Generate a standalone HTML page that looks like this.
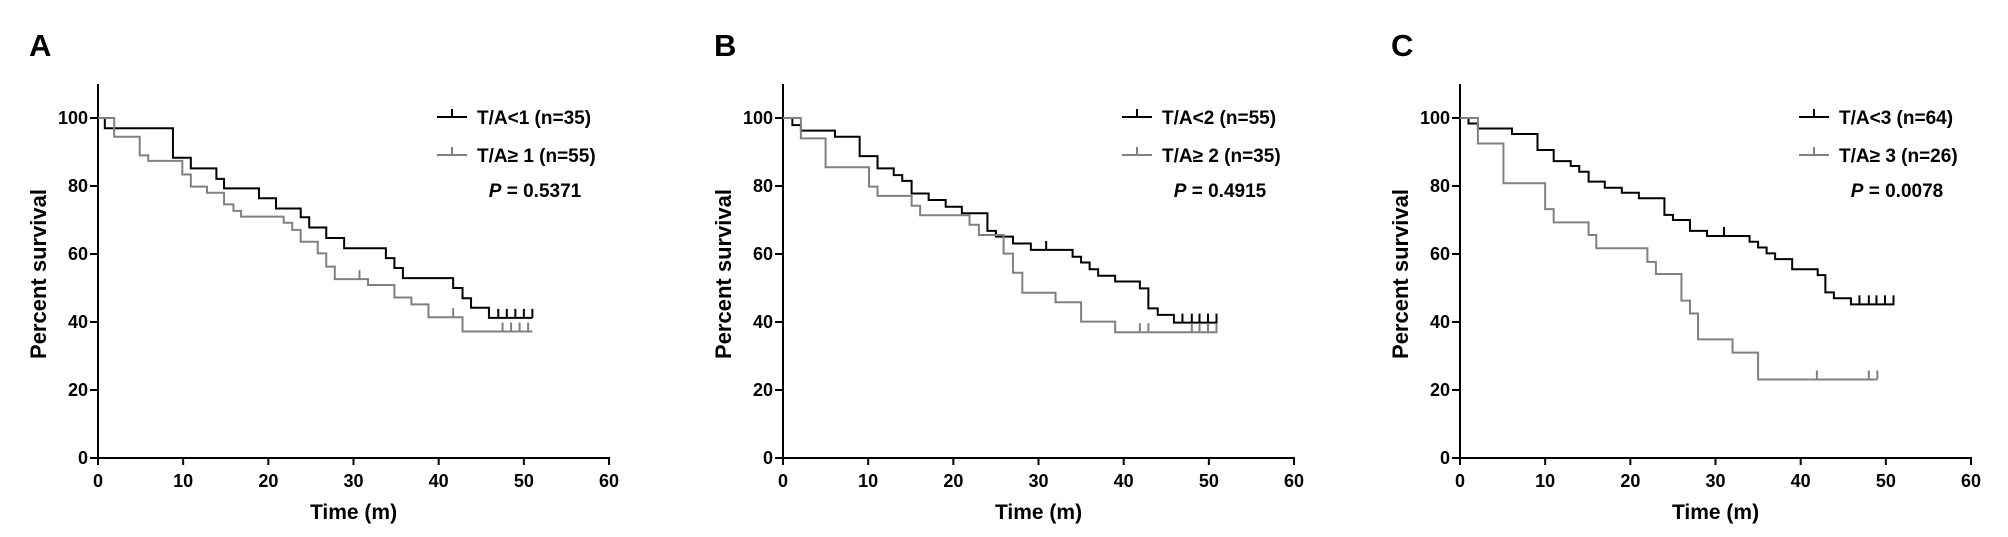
<!DOCTYPE html>
<html><head><meta charset="utf-8"><style>
body{margin:0;background:#fff;width:2008px;height:537px;overflow:hidden}
svg{display:block}
text{font-family:"Liberation Sans Narrow","Liberation Sans",sans-serif;font-weight:bold}
</style></head><body>
<svg id="c" width="2008" height="537"></svg>
<script>
const xTicks=[0,10,20,30,40,50,60];
const yTicks=[0,20,40,60,80,100];
const panelLetters=["A","B","C"];
const legendLow=["T/A<1 (n=35)","T/A<2 (n=55)","T/A<3 (n=64)"];
const legendHigh=["T/A≥ 1 (n=55)","T/A≥ 2 (n=35)","T/A≥ 3 (n=26)"];
const pValues=["0.5371","0.4915","0.0078"];
// Panel A
const aLowT=[0,0.8,8.8,10.9,13.9,14.8,18.9,20.9,23.8,24.8,26.8,28.9,33.8,34.8,35.8,41.7,42.8,43.8,45.9];
const aLowS=[100,97,88.3,85.2,82.1,79.3,76.4,73.4,70.8,67.8,64.7,61.7,58.8,55.9,52.9,50,47,44.2,41.2];
const aLowCens=[47,48,49,50,51];
const aHighT=[0,1.9,4.9,5.9,9.9,10.9,12.8,14.8,15.9,16.8,21.8,22.8,23.8,25.8,26.8,27.8,31.7,34.8,36.8,38.8,42.8];
const aHighS=[100,94.5,89,87.4,83.4,79.8,78,74.6,72.7,71,69.2,67.1,63.6,60.2,56.3,52.6,50.9,47.2,45.2,41.4,37.2];
const aHighCens=[30.7,41.7,47.5,48.5,49.5,50.5];
// Panel B
const bLowT=[0,1.1,2.1,6.1,9,11.1,13,14,15.1,17.1,19.1,21,24,25,27,29.1,34,35,36,37,39,41.9,42.9,44,45.9];
const bLowS=[100,97.9,96.3,94.5,88.8,85.2,83.2,81.5,77.8,75.9,73.9,72,66.8,65.1,63.1,61.2,59.2,57.5,55.5,53.6,51.9,49.9,44,42.1,39.8];
const bLowCens=[30.9,46.9,48,48.9,49.9,50.9];
const bHighT=[0,2.1,5,10.1,11.1,15.1,16.1,21.9,23,25.9,27,28.1,32,35,39];
const bHighS=[100,94,85.5,79.8,77.1,74.2,71.4,68.6,65.6,60.1,54.5,48.6,45.8,40.1,37];
const bHighCens=[41.9,42.9,48,48.9,49.9,50.9];
// Panel C
const cLowT=[0,1,2.1,6.1,9.1,11,13,14,15.1,17,19,21,24,25,27,29,34,35,36,37,39,42,42.9,43.9,45.9];
const cLowS=[100,98.4,96.9,95.3,90.6,87.3,85.9,84.2,81.3,79.5,78,76.4,71.5,70,66.8,65.3,63.6,61.9,60.2,58.5,55.5,53.8,48.7,47,45.2];
const cLowCens=[31,46.9,48,48.9,49.9,50.9];
const cHighT=[0,2.1,5.1,10,11,15.1,16,22,23,26,27,27.95,32,35];
const cHighS=[100,92.5,80.8,73.2,69.3,65.6,61.7,57.7,54.1,46.3,42.5,34.9,31,23.1];
const cHighCens=[41.9,48,49];
const lowEnd=[51,51,51], highEnd=[51,51,49];

const panels=[
 {ox:98,low:[aLowT,aLowS,aLowCens],high:[aHighT,aHighS,aHighCens]},
 {ox:783,low:[bLowT,bLowS,bLowCens],high:[bHighT,bHighS,bHighCens]},
 {ox:1460,low:[cLowT,cLowS,cLowCens],high:[cHighT,cHighS,cHighCens]}
];
const svg=document.getElementById('c');
const NS='http://www.w3.org/2000/svg';
function mk(tag,attrs,parent){const e=document.createElementNS(NS,tag);for(const k in attrs)e.setAttribute(k,attrs[k]);(parent||svg).appendChild(e);return e;}
const Y0=458, PXY=3.4, PXX=8.517;
panels.forEach((p,i)=>{
 const g=mk('g',{});
 
 
 const X=t=>p.ox+t*PXX, Y=v=>Y0-v*PXY;
 const L=mk('text',{x:p.ox-69,y:56,'font-size':31},g);L.textContent=panelLetters[i];
 
 const ya=mk('line',{x1:p.ox,y1:Y(110),x2:p.ox,y2:Y0+1,stroke:'#000','stroke-width':2},g);
 
 const xa=mk('line',{x1:p.ox-1,y1:Y0,x2:X(60)+1,y2:Y0,stroke:'#000','stroke-width':2},g);
 
 yTicks.forEach(v=>{
  mk('line',{x1:p.ox-8,y1:Y(v),x2:p.ox,y2:Y(v),stroke:'#000','stroke-width':2},g);
  const t=mk('text',{x:p.ox-10,y:Y(v)+6,'font-size':18,'text-anchor':'end'},g);t.textContent=v;
  
 });
 xTicks.forEach(v=>{
  mk('line',{x1:X(v),y1:Y0,x2:X(v),y2:Y0+7,stroke:'#000','stroke-width':2},g);
  const t=mk('text',{x:X(v),y:487,'font-size':18,'text-anchor':'middle'},g);t.textContent=v;
  
 });
 const xt=mk('text',{x:X(30),y:519,'font-size':21,'text-anchor':'middle'},g);xt.textContent='Time (m)';
 
 const yt=mk('text',{x:0,y:0,'font-size':22,'text-anchor':'middle',transform:`translate(${p.ox-52},274) rotate(-90)`},g);yt.textContent='Percent survival';
 
 [[p.low,'#000',lowEnd[i],'low'],[p.high,'#808080',highEnd[i],'high']].forEach(([s,col,end,nm])=>{
  const [T,S,C]=s;let d=`M${X(T[0])},${Y(S[0])}`;
  for(let k=1;k<T.length;k++){d+=` H${X(T[k])} V${Y(S[k])}`;}
  d+=` H${X(end)}`;
  const path=mk('path',{d:d,fill:'none',stroke:col,'stroke-width':2},g);
  
  C.forEach(c=>{let v=S[0];for(let k=0;k<T.length;k++)if(T[k]<=c)v=S[k];
   const m=mk('line',{x1:X(c),y1:Y(v),x2:X(c),y2:Y(v)-9,stroke:col,'stroke-width':2},g);
   });
 });
 [[legendLow[i],'#000',117],[legendHigh[i],'#808080',155]].forEach(([txt,col,y])=>{
  const lg=mk('g',{},g);
  mk('line',{x1:p.ox+339,y1:y,x2:p.ox+369,y2:y,stroke:col,'stroke-width':2},lg);
  mk('line',{x1:p.ox+354,y1:y,x2:p.ox+354,y2:y-8,stroke:col,'stroke-width':2},lg);
  const t=mk('text',{x:p.ox+379,y:y+7,'font-size':19},lg);t.textContent=txt;
 });
 const pv=mk('text',{x:p.ox+437,y:197,'font-size':19,'text-anchor':'middle'},g);
 
 const it=document.createElementNS(NS,'tspan');it.setAttribute('font-style','italic');it.textContent='P';pv.appendChild(it);
 pv.appendChild(document.createTextNode(' = '+pValues[i]));
});
</script>
</body></html>
